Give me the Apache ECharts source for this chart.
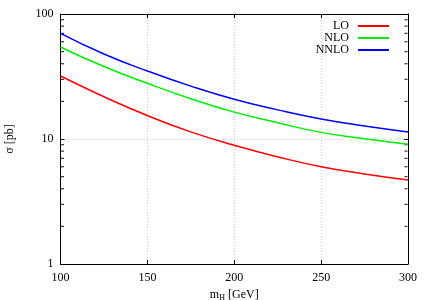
<!DOCTYPE html>
<html>
<head>
<meta charset="utf-8">
<script src="https://cdn.jsdelivr.net/npm/echarts@6/dist/echarts.min.js"></script>
<style>html,body{margin:0;padding:0;background:#fff}#c{width:428px;height:300px}</style>
</head>
<body>
<div id="c"></div>
<script>
var masses = [100, 125, 150, 175, 200, 225, 250, 275, 300];
var LO   = [31.9, 21.8, 15.4, 11.4, 8.9, 7.2, 6.0, 5.25, 4.7];
var NLO  = [54.5, 38.0, 27.9, 21.0, 16.4, 13.5, 11.3, 10.05, 9.08];
var NNLO = [70, 47.9, 35, 26.5, 20.8, 17.1, 14.45, 12.7, 11.4];
var minorTickValues = [2,3,4,5,6,7,8,9,20,30,40,50,60,70,80,90];
var seriesNames = ['LO', 'NLO', 'NNLO'];

function pairs(ys){ return masses.map(function(m,i){ return [m, ys[i]]; }); }
var font = 'Liberation Serif';
var chart = echarts.init(document.getElementById('c'));
var axisLine = {show:true, lineStyle:{color:'#000', width:1}};
var grid = {show:true, lineStyle:{color:'#c8c8c8', type:[1,2], width:1}};
chart.setOption({
  animation:false,
  backgroundColor:'#fff',
  textStyle:{fontFamily:font},
  grid:{left:60.5, right:20, top:14, bottom:36, outerBoundsMode:'none', containLabel:false},
  legend:{
    data:seriesNames.map(function(n){return {name:n, icon:'rect'};}),
    orient:'vertical', align:'right', right:34, top:15,
    itemWidth:31, itemHeight:2, itemGap:0,
    textStyle:{fontFamily:font, fontSize:12, color:'#000', lineHeight:11.7, padding:[0,4,0,0]}
  },
  xAxis:[{
    type:'value', min:100, max:300, interval:50,
    axisLine:axisLine,
    axisTick:{show:true, inside:true, length:4, lineStyle:{color:'#000'}},
    axisLabel:{fontFamily:font, fontSize:12, color:'#000', margin:8},
    splitLine:grid,
    name:'{m|m}{s|H} {m|[GeV]}', nameLocation:'middle', nameGap:24,
    nameTextStyle:{rich:{m:{fontFamily:font,fontSize:12,color:'#000'}, s:{fontFamily:font,fontSize:8,color:'#000',padding:[6,0,0,0]}}}
  },{
    type:'value', min:100, max:300, interval:50, position:'top',
    axisLine:axisLine,
    axisTick:{show:true, inside:true, length:4, lineStyle:{color:'#000'}},
    axisLabel:{show:false}, splitLine:{show:false}
  }],
  yAxis:[{
    type:'log', logBase:10, min:1, max:100,
    axisLine:axisLine,
    axisTick:{show:true, inside:true, length:4, lineStyle:{color:'#000'}},
    axisLabel:{fontFamily:font, fontSize:12, color:'#000', margin:7},
    splitLine:grid,
    name:'σ [pb]', nameLocation:'middle', nameGap:45,
    nameTextStyle:{fontFamily:font, fontSize:12, color:'#000'}
  },{
    type:'log', logBase:10, min:1, max:100, position:'right',
    axisLine:axisLine,
    axisTick:{show:true, inside:true, length:4, lineStyle:{color:'#000'}},
    axisLabel:{show:false}, splitLine:{show:false}
  }],
  series:[
    {name:'LO', type:'line', data:pairs(LO), smooth:true, showSymbol:false, color:'#ff0000', lineStyle:{width:1.5, color:'#ff0000'}},
    {name:'NLO', type:'line', data:pairs(NLO), smooth:true, showSymbol:false, color:'#00ee00', lineStyle:{width:1.5, color:'#00ee00'}},
    {name:'NNLO', type:'line', data:pairs(NNLO), smooth:true, showSymbol:false, color:'#0000ff', lineStyle:{width:1.5, color:'#0000ff'}},
    {type:'scatter', silent:true, clip:false, symbol:'rect', symbolSize:[3,1.2], symbolOffset:[2,0],
     itemStyle:{color:'#000'}, data:minorTickValues.map(function(v){return [100,v];})},
    {type:'scatter', silent:true, clip:false, symbol:'rect', symbolSize:[3,1.2], symbolOffset:[-2,0],
     itemStyle:{color:'#000'}, data:minorTickValues.map(function(v){return [300,v];})}
  ]
});
</script>
</body>
</html>
